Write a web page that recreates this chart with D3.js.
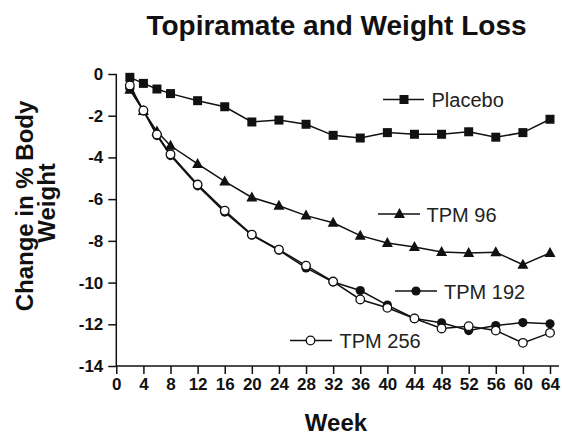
<!DOCTYPE html>
<html>
<head>
<meta charset="utf-8">
<script src="https://cdn.jsdelivr.net/npm/d3@7/dist/d3.min.js"></script>
<style>
  html, body { margin: 0; padding: 0; background: #fff; }
  svg { display: block; font-family: "Liberation Sans", Arial, Helvetica, sans-serif; }
</style>
</head>
<body>
<svg id="chart" width="562" height="436"></svg>
<script>
// ---- data ----
const weeks   = [2, 4, 6, 8, 12, 16, 20, 24, 28, 32, 36, 40, 44, 48, 52, 56, 60, 64];
const placebo = [-0.16, -0.45, -0.72, -0.94, -1.28, -1.57, -2.30, -2.21, -2.41, -2.94, -3.07, -2.81, -2.89, -2.89, -2.77, -3.03, -2.81, -2.17];
const tpm96   = [-0.75, -1.77, -2.76, -3.44, -4.31, -5.15, -5.92, -6.32, -6.79, -7.13, -7.75, -8.10, -8.29, -8.53, -8.58, -8.55, -9.14, -8.58];
const tpm192  = [-0.70, -1.77, -2.95, -3.91, -5.36, -6.62, -7.73, -8.45, -9.30, -9.97, -10.38, -11.08, -11.72, -11.93, -12.30, -12.06, -11.92, -11.98];
const tpm256  = [-0.55, -1.75, -2.90, -3.85, -5.30, -6.55, -7.70, -8.42, -9.19, -9.95, -10.81, -11.21, -11.72, -12.20, -12.09, -12.30, -12.89, -12.41];
const seriesNames = ["Placebo", "TPM 96", "TPM 192", "TPM 256"];
const xTicks = [0, 4, 8, 12, 16, 20, 24, 28, 32, 36, 40, 44, 48, 52, 56, 60, 64];
const yTicks = [0, -2, -4, -6, -8, -10, -12, -14];

// ---- layout ----
const svg = d3.select("#chart");
const ink = "#111";
const x = d3.scaleLinear().domain([0, 64]).range([116.3, 550]);
const y = d3.scaleLinear().domain([0, -14]).range([74, 366]);

const series = [
  { name: seriesNames[0], values: placebo, marker: "square",   legend: { x1: 383, x2: 424, mx: 404,   y: 99.5,  tx: 431.5, ty: 106.5 } },
  { name: seriesNames[1], values: tpm96,   marker: "triangle", legend: { x1: 378, x2: 420, mx: 399.5, y: 214,   tx: 426.5, ty: 221.5 } },
  { name: seriesNames[2], values: tpm192,  marker: "circle",   legend: { x1: 395, x2: 437, mx: 416,   y: 291,   tx: 444,   ty: 298.5 } },
  { name: seriesNames[3], values: tpm256,  marker: "open",     legend: { x1: 290, x2: 332, mx: 310.5, y: 340.5, tx: 339.5, ty: 348 } }
];

// title
svg.append("text").attr("x", 336.5).attr("y", 35).attr("text-anchor", "middle")
  .attr("font-size", 28).attr("font-weight", "bold").attr("fill", ink)
  .text("Topiramate and Weight Loss");

// axes
const xAxis = d3.axisBottom(x).tickValues(xTicks).tickSize(8).tickSizeOuter(0).tickPadding(4);
const gx = svg.append("g").attr("transform", `translate(0,${y(-14)})`).call(xAxis);
gx.select(".domain").remove();
gx.append("line").attr("x1", x(0)).attr("x2", 559).attr("stroke", ink).attr("stroke-width", 1.5);
gx.selectAll(".tick line").attr("stroke", ink).attr("stroke-width", 1.5);
gx.selectAll(".tick text").attr("fill", ink).attr("font-size", 17).attr("font-weight", "bold")
  .attr("font-family", null);

const yAxis = d3.axisLeft(y).tickValues(yTicks).tickSize(8).tickSizeOuter(0).tickPadding(5)
  .tickFormat(d => d === 0 ? "0" : "-" + Math.abs(d));
const gy = svg.append("g").attr("transform", `translate(${x(0)},0)`).call(yAxis);
gy.select(".domain").remove();
gy.append("line").attr("y1", y(0)).attr("y2", y(-14)).attr("stroke", ink).attr("stroke-width", 1.5);
gy.selectAll(".tick line").attr("stroke", ink).attr("stroke-width", 1.5);
gy.selectAll(".tick text").attr("fill", ink).attr("font-size", 17).attr("font-weight", "bold")
  .attr("font-family", null);

// axis titles
svg.append("text").attr("x", 336).attr("y", 431).attr("text-anchor", "middle")
  .attr("font-size", 24).attr("font-weight", "bold").attr("fill", ink).text("Week");
const yl = svg.append("text").attr("transform", "translate(33,206) rotate(-90)")
  .attr("text-anchor", "middle").attr("font-size", 24).attr("font-weight", "bold").attr("fill", ink);
yl.append("tspan").attr("x", 0).attr("y", 0).text("Change in % Body");
yl.append("tspan").attr("x", 3).attr("y", 22).text("Weight");

// marker drawing
function drawMarker(g, type, cx, cy) {
  if (type === "square") {
    g.append("rect").attr("x", cx - 4.5).attr("y", cy - 4.5).attr("width", 9).attr("height", 9).attr("fill", ink);
  } else if (type === "triangle") {
    const p = d3.path();
    p.moveTo(cx, cy - 6); p.lineTo(cx + 5.5, cy + 4); p.lineTo(cx - 5.5, cy + 4); p.closePath();
    g.append("path").attr("d", p.toString()).attr("fill", ink);
  } else if (type === "circle") {
    g.append("circle").attr("cx", cx).attr("cy", cy).attr("r", 4.6).attr("fill", ink);
  } else {
    g.append("circle").attr("cx", cx).attr("cy", cy).attr("r", 4.3).attr("fill", "#fff")
      .attr("stroke", ink).attr("stroke-width", 1.3);
  }
}

const line = d3.line().x(d => x(d[0])).y(d => y(d[1]));
series.forEach(s => {
  const pts = weeks.map((w, i) => [w, s.values[i]]);
  const g = svg.append("g");
  g.append("path").attr("d", line(pts)).attr("fill", "none").attr("stroke", ink).attr("stroke-width", 1.5);
  pts.forEach(p => drawMarker(g, s.marker, x(p[0]), y(p[1])));
  // legend
  const L = s.legend;
  const lg = svg.append("g");
  lg.append("line").attr("x1", L.x1).attr("x2", L.x2).attr("y1", L.y).attr("y2", L.y)
    .attr("stroke", ink).attr("stroke-width", 1.5);
  drawMarker(lg, s.marker, L.mx, L.y);
  lg.append("text").attr("x", L.tx).attr("y", L.ty).attr("font-size", 20).attr("fill", "#222").text(s.name);
});
</script>
</body>
</html>
